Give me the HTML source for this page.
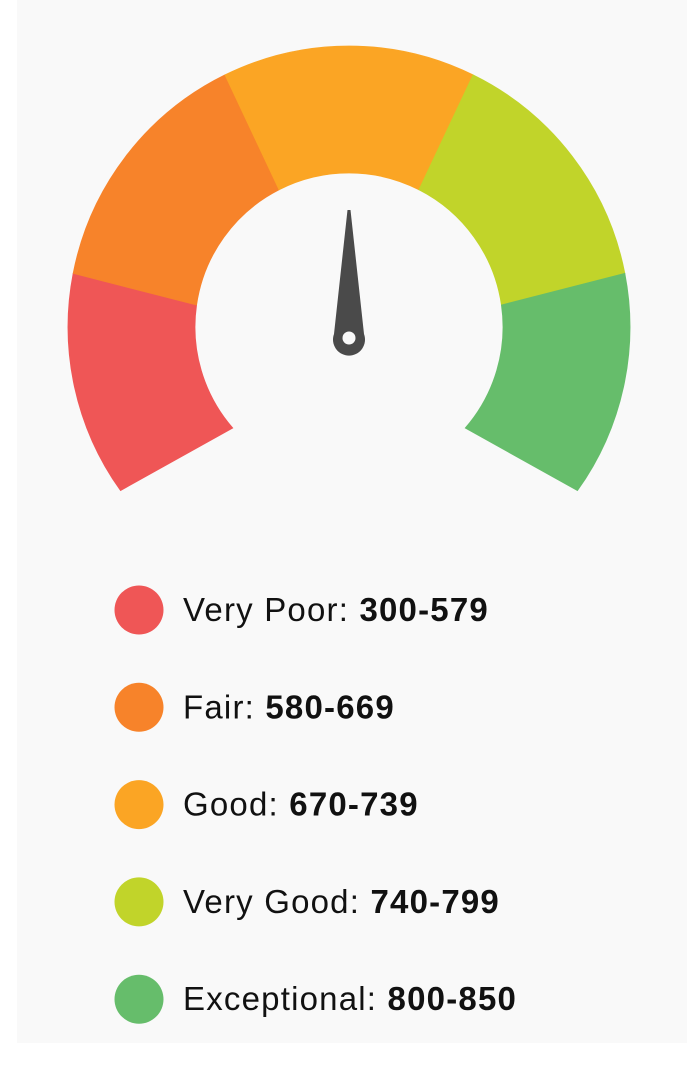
<!DOCTYPE html>
<html><head><meta charset="utf-8"><style>
html,body{margin:0;padding:0;background:#fff;}
body{width:687px;height:1070px;position:relative;overflow:hidden;font-family:"Liberation Sans",sans-serif;}
#panel{position:absolute;left:17px;top:0;width:670px;height:1043px;background:#f9f9f9;}
svg{position:absolute;left:0;top:0;}
</style></head><body>
<div id="panel"></div>
<svg id="chart" width="687" height="1070"></svg>
<script>
const categories = ["Very Poor", "Fair", "Good", "Very Good", "Exceptional"];
const rangeLabels = ["300-579", "580-669", "670-739", "740-799", "800-850"];
const colors = ["#ef5656", "#f7832a", "#fba524", "#c1d42a", "#66bd6b"];
const outerAngles = [215.6, 169, 116.2, 63.8, 11, -35.6];
const innerAngles = [221, 171.8, 117, 63, 8.2, -41];
const needleValue = 90;

const NS = "http://www.w3.org/2000/svg";
const svg = document.getElementById("chart");
const cx = 349, cy = 327, ro = 281, ri = 154;
function pt(r, th){ const a = th*Math.PI/180; return [cx + r*Math.cos(a), cy - r*Math.sin(a)]; }
for (let i = 0; i < categories.length; i++) {
  const o0 = pt(ro, outerAngles[i]), o1 = pt(ro, outerAngles[i+1]);
  const i1 = pt(ri, innerAngles[i+1]), i0 = pt(ri, innerAngles[i]);
  const d = `M${o0[0]},${o0[1]} A${ro},${ro} 0 0 1 ${o1[0]},${o1[1]} L${i1[0]},${i1[1]} A${ri},${ri} 0 0 0 ${i0[0]},${i0[1]} Z`;
  const path = document.createElementNS(NS, "path");
  path.setAttribute("d", d);
  path.setAttribute("fill", colors[i]);
  path.setAttribute("stroke", colors[i]);
  path.setAttribute("stroke-width", "0.8");
  
  
  svg.appendChild(path);
}
// needle
const g = document.createElementNS(NS, "g");


const nx = 349, ny = 338;
g.setAttribute("transform", `rotate(${90 - needleValue} ${nx} ${ny})`);
const needle = document.createElementNS(NS, "path");
needle.setAttribute("d", `M${nx-1.5},${ny-128} L${nx+1.5},${ny-128} L${nx+15},${ny-4} A16,16 0 1 1 ${nx-15},${ny-4} Z`);
needle.setAttribute("fill", "#4a4a4a");
g.appendChild(needle);
const hole = document.createElementNS(NS, "circle");
hole.setAttribute("cx", nx); hole.setAttribute("cy", ny); hole.setAttribute("r", 6.5);
hole.setAttribute("fill", "#f9f9f9");
g.appendChild(hole);
svg.appendChild(g);

// legend
for (let i = 0; i < categories.length; i++) {
  const y = 610 + i * 97.3;
  const c = document.createElementNS(NS, "circle");
  c.setAttribute("cx", 139); c.setAttribute("cy", y); c.setAttribute("r", 24.5);
  c.setAttribute("fill", colors[i]);
  
  
  svg.appendChild(c);
  const t = document.createElementNS(NS, "text");
  t.setAttribute("x", 183); t.setAttribute("y", y + 11);
  t.setAttribute("font-size", "33");
  t.setAttribute("letter-spacing", "1.2");
  t.setAttribute("fill", "#111");
  t.setAttribute("font-family", "Liberation Sans, sans-serif");
  
  
  const s1 = document.createElementNS(NS, "tspan");
  s1.textContent = categories[i] + ": ";
  const s2 = document.createElementNS(NS, "tspan");
  s2.setAttribute("font-weight", "bold");
  s2.textContent = rangeLabels[i];
  t.appendChild(s1); t.appendChild(s2);
  svg.appendChild(t);
}
</script>
</body></html>
